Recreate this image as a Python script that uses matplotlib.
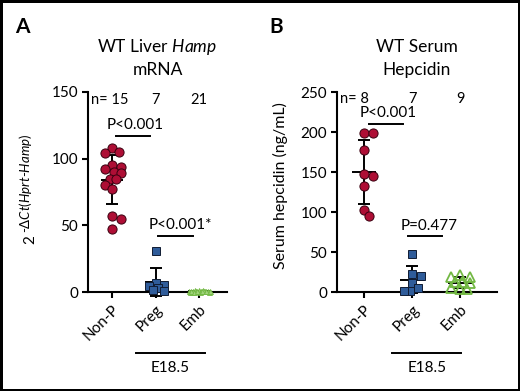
import numpy as np
import matplotlib
matplotlib.use('Agg')
import matplotlib.pyplot as plt
from matplotlib.patches import Rectangle
import matplotlib.transforms as mtrans

plt.rcParams['font.family'] = ['Lato', 'DejaVu Sans']
plt.rcParams['mathtext.fontset'] = 'custom'
plt.rcParams['mathtext.rm'] = 'Lato'
plt.rcParams['mathtext.it'] = 'Lato:italic'
plt.rcParams['mathtext.sf'] = 'Lato'

# ---------------- data ----------------
groups = ['Non-P', 'Preg', 'Emb']
bracket_label = 'E18.5'

liver_nonp = [108, 104, 105, 95.5, 94, 90, 92, 89, 85, 85, 80, 77, 57, 55, 47]
liver_preg = [31, 6.5, 5, 4.5, 3, 1.5, 0.8]
liver_emb = [0.2, 0.5, 1.1, 0.3, 0.8, 1.4, 0.1, 0.6, 0.9, 1.2, 0.4,
             0.7, 0.2, 1.0, 0.5, 0.3, 1.3, 0.6, 0.9, 0.4, 0.8]

serum_nonp = [199, 199, 177, 147, 145, 132, 103, 95]
serum_preg = [47.5, 22, 20, 11, 5.4, 1.3, 1.3]
serum_emb = [19, 21, 19, 11, 13, 12, 3.4, 4.6, 3.4]

liver_pvals = ['P<0.001', 'P<0.001*']
serum_pvals = ['P<0.001', 'P=0.477']

liver_yticks = [0, 50, 100, 150]
serum_yticks = [0, 50, 100, 150, 200, 250]

RED = '#AE0E35'
BLUE = '#2F5C9A'
GREEN = '#72B843'

W, H = 520, 391
fig = plt.figure(figsize=(W / 100, H / 100), dpi=100)


def px_axes(l, r, b, t):
    return fig.add_axes([l / W, 1 - b / H, (r - l) / W, (b - t) / H])


def swarm(ax, x0, vals, diam_px, maxw, frac=0.85):
    """Bounded beeswarm: offsets (px) limited to +-maxw, computed from values."""
    trans = ax.transData
    pts = trans.transform([(x0, v) for v in vals])
    placed = []
    out = np.zeros(len(vals))
    step = diam_px * 0.25
    cands = [0.0]
    m = 1
    while m * step <= maxw:
        cands += [m * step, -m * step]
        m += 1
    for i in np.argsort(-np.asarray(vals), kind='stable'):
        y = pts[i, 1]
        best, bestd = 0.0, -1.0
        for c in cands:
            d = min([np.hypot(c - px, y - py) for px, py in placed], default=1e9)
            if d >= diam_px * frac:
                best = c
                break
            if d > bestd:
                best, bestd = c, d
        placed.append((best, y))
        out[i] = best
    inv = trans.inverted()
    x0px = pts[0, 0]
    return [inv.transform((x0px + o, pts[0, 1]))[0] for o in out]


def style_axes(ax, ylim, yticks, xlim):
    ax.set_xlim(*xlim)
    ax.set_ylim(*ylim)
    ax.set_yticks(yticks)
    ax.set_xticks(range(len(groups)))
    ax.set_xticklabels(groups, rotation=45, ha='right', va='top',
                       rotation_mode='anchor', fontsize=11)
    for lab in ax.get_xticklabels():
        lab.set_transform(lab.get_transform() + mtrans.ScaledTranslation(5 / 72, 0, fig.dpi_scale_trans))
    ax.tick_params(axis='both', labelsize=11, width=1.5, length=4.5, pad=2.5, color='black')
    ax.tick_params(axis='x', pad=3)
    for s in ['top', 'right']:
        ax.spines[s].set_visible(False)
    for s in ['left', 'bottom']:
        ax.spines[s].set_linewidth(1.5)
    ax.patch.set_alpha(0)


def plot_group(ax, xi, vals, marker, face, edge, ms, mew, diam_px, maxw, frac=0.85, halfw=0.25):
    xs = swarm(ax, xi, vals, diam_px, maxw, frac)
    m = np.mean(vals)
    sd = np.std(vals, ddof=1)
    ax.errorbar([xi], [m], yerr=[sd], fmt='none', ecolor='black', elinewidth=1.4,
                capsize=4, capthick=1.4, zorder=2, clip_on=False)
    ax.hlines(m, xi - halfw, xi + halfw, color='black', lw=1.4, zorder=2)
    ax.plot(xs, vals, linestyle='none', marker=marker, ms=ms, mfc=face, mec=edge,
            mew=mew, zorder=3, clip_on=False)


def sig(ax, x1, x2, y, tx, ty, text):
    ax.plot([x1, x2], [y, y], color='black', lw=1.4, clip_on=False)
    ax.text(tx, ty, text, ha='center', va='center', fontsize=11)


def e_bracket(ax, x1, x2, tx):
    tr = mtrans.blended_transform_factory(ax.transData, ax.transAxes)
    ax.plot([x1, x2], [-0.3035, -0.3035], color='black', lw=1.4, transform=tr, clip_on=False)
    ax.text(tx, -0.378, bracket_label, ha='center', va='center', fontsize=11, transform=tr)


# ---------------- Panel A ----------------
axA = px_axes(88, 227, 292, 92)
style_axes(axA, (0, 150), liver_yticks, (-0.55, 2.64))
plot_group(axA, 0, liver_nonp, 'o', RED, '#3a0010', 6.6, 0.7, 9, 10)
plot_group(axA, 1, liver_preg, 's', BLUE, '#101c33', 6.0, 0.7, 8.5, 10, frac=0.8)
plot_group(axA, 2, liver_emb, '^', '#9fd37a', GREEN, 3.6, 0.6, 4.2, 11, frac=0.8)

axA.text(0.02, 144, 'n= ' + str(len(liver_nonp)),
         transform=mtrans.blended_transform_factory(axA.transAxes, axA.transData),
         ha='left', va='center', fontsize=10.5)
axA.text(1, 144, str(len(liver_preg)), ha='center', va='center', fontsize=10.5)
axA.text(2, 144, str(len(liver_emb)), ha='center', va='center', fontsize=10.5)

sig(axA, 0.09, 0.87, 117, 0.53, 125.5, liver_pvals[0])
sig(axA, 1.06, 1.86, 42, 1.56, 50, liver_pvals[1])
e_bracket(axA, 0.55, 2.14, 1.33)

axA.text(0.5, 1.2, r'WT Liver $\mathit{Hamp}$', transform=axA.transAxes, ha='center',
         va='baseline', fontsize=12.5)
axA.text(0.5, 1.085, 'mRNA', transform=axA.transAxes, ha='center', va='baseline', fontsize=12.5)

# y label of A: base "2" with a raised exponent, both rotated
fig.text(34 / W, 1 - 244 / H, '2', rotation=90, rotation_mode='anchor',
         ha='left', va='baseline', fontsize=11)
fig.text(29.5 / W, 1 - 233 / H, r'-$\mathit{\Delta Ct}$($\mathit{Hprt}$-$\mathit{Hamp}$)',
         rotation=90, rotation_mode='anchor', ha='left', va='baseline', fontsize=9.5)

# ---------------- Panel B ----------------
axB = px_axes(337, 497, 292, 92)
style_axes(axB, (0, 250), serum_yticks, (-0.565, 2.77))
plot_group(axB, 0, serum_nonp, 'o', RED, '#3a0010', 6.6, 0.7, 9, 10)
plot_group(axB, 1, serum_preg, 's', BLUE, '#101c33', 6.0, 0.7, 8.5, 10, frac=0.9)
plot_group(axB, 2, serum_emb, '^', 'none', GREEN, 7.0, 1.3, 9.5, 10, frac=0.85)

axB.text(0.02, 241, 'n= ' + str(len(serum_nonp)),
         transform=mtrans.blended_transform_factory(axB.transAxes, axB.transData),
         ha='left', va='center', fontsize=10.5)
axB.text(1, 241, str(len(serum_preg)), ha='center', va='center', fontsize=10.5)
axB.text(2, 241, str(len(serum_emb)), ha='center', va='center', fontsize=10.5)

sig(axB, 0.1, 0.82, 209.6, 0.5, 224, serum_pvals[0])
sig(axB, 0.91, 1.63, 70.4, 1.36, 82.5, serum_pvals[1])
e_bracket(axB, 0.59, 2.03, 1.31)

axB.text(0.5, 1.2, 'WT Serum', transform=axB.transAxes, ha='center', va='baseline', fontsize=12.5)
axB.text(0.5, 1.085, 'Hepcidin', transform=axB.transAxes, ha='center', va='baseline', fontsize=12.5)
axB.set_ylabel('Serum hepcidin (ng/mL)', fontsize=11.5)
axB.yaxis.set_label_coords(-0.306, 0.53)

# panel letters
fig.text(15 / W, 1 - 33 / H, 'A', fontsize=15, fontweight='bold', ha='left', va='baseline')
fig.text(269 / W, 1 - 33 / H, 'B', fontsize=15, fontweight='bold', ha='left', va='baseline')

# outer frame
fig.patches.append(Rectangle((0, 0), 1, 1, transform=fig.transFigure, fill=False,
                             edgecolor='black', lw=3.6, zorder=10))

fig.savefig('out.png', dpi=100)
